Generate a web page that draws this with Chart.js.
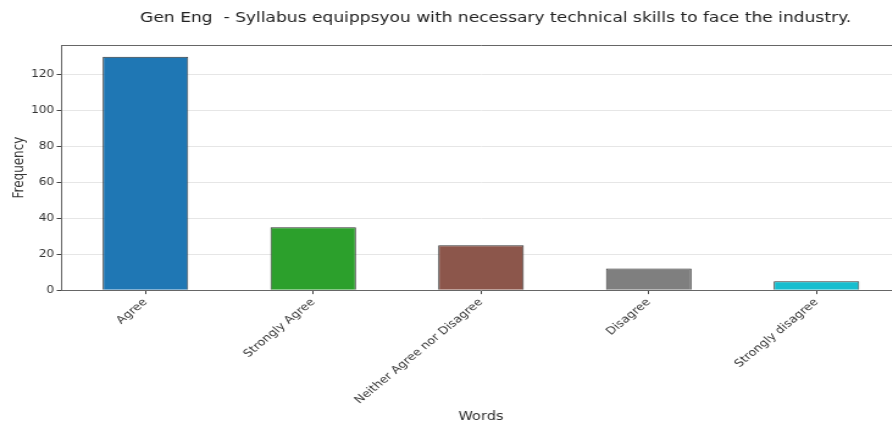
<!DOCTYPE html>
<html>
<head>
<meta charset="utf-8">
<script src="https://cdn.jsdelivr.net/npm/chart.js@4/dist/chart.umd.min.js"></script>
<style>
html,body{margin:0;padding:0;background:#fff;overflow:hidden;width:892px;height:427px;}
#c{display:block;transform:scaleX(1.22);transform-origin:0 0;}
</style>
</head>
<body>
<canvas id="c" width="738" height="427" style="width:738px;height:427px"></canvas>
<script>
const titleText = "Gen Eng  - Syllabus equippsyou with necessary technical skills to face the industry.";
const categories = ["Agree", "Strongly Agree", "Neither Agree nor Disagree", "Disagree", "Strongly disagree"];
const frequency = [130, 35, 25, 12, 5];
const barColors = ["#1f77b4", "#2ca02c", "#8c564b", "#7f7f7f", "#17becf"];
const yTicks = [0, 20, 40, 60, 80, 100, 120];
const yMax = 136.5;

const framePlugin = {
  id: 'frame',
  afterDraw(chart) {
    const a = chart.chartArea, ctx = chart.ctx;
    ctx.save();
    ctx.strokeStyle = '#666';
    ctx.lineWidth = 1;
    ctx.beginPath();
    ctx.moveTo(a.left, a.top + 0.5);
    ctx.lineTo(a.right, a.top + 0.5);
    ctx.stroke();
    ctx.font = '14px "DejaVu Sans"';
    ctx.fillStyle = '#222';
    ctx.textAlign = 'center';
    ctx.textBaseline = 'middle';
    ctx.fillText(titleText, (a.left + a.right) / 2 + 12, 18);
    ctx.restore();
  }
};

new Chart(document.getElementById('c'), {
  type: 'bar',
  data: {
    labels: categories,
    datasets: [{
      data: frequency,
      backgroundColor: barColors,
      borderColor: '#333',
      borderWidth: 1,
      barPercentage: 0.51,
      categoryPercentage: 1.0
    }]
  },
  options: {
    responsive: false,
    animation: false,
    devicePixelRatio: 1,
    layout: { padding: { top: 45, left: 9, right: 0, bottom: 3 } },
    plugins: { legend: { display: false }, tooltip: { enabled: false } },
    scales: {
      x: {
        offset: true,
        grid: { display: true, drawOnChartArea: false, offset: false, tickLength: 4, tickColor: '#444' },
        border: { color: '#666', width: 1 },
        ticks: { autoSkip: false, maxRotation: 45, minRotation: 45, padding: 2,
                 font: { family: 'DejaVu Sans', size: 10.5 }, color: '#333' },
        title: { display: true, text: 'Words', font: { family: 'DejaVu Sans', size: 12 }, color: '#333', padding: { top: 1, bottom: 0 } }
      },
      y: {
        min: 0, max: yMax,
        afterBuildTicks(scale) { scale.ticks = yTicks.map(v => ({ value: v })); },
        grid: { color: '#e6e6e6', tickLength: 4, tickColor: '#444' },
        border: { color: '#666', width: 1 },
        ticks: { padding: 2, font: { family: 'DejaVu Sans', size: 10 }, color: '#333' },
        title: { display: true, text: 'Frequency', font: { family: 'DejaVu Sans', size: 12 }, color: '#333', padding: { top: 0, bottom: 0 } }
      }
    }
  },
  plugins: [framePlugin]
});
</script>
</body>
</html>
